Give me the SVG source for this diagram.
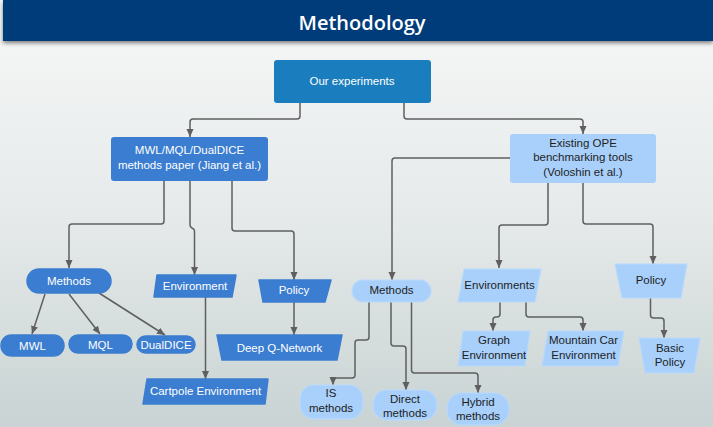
<svg xmlns="http://www.w3.org/2000/svg" width="713" height="427" viewBox="0 0 713 427">
<defs>
<linearGradient id="bg" x1="0" y1="0" x2="0" y2="1">
<stop offset="0" stop-color="#f7f8f8"/>
<stop offset="0.5" stop-color="#e6eaea"/>
<stop offset="1" stop-color="#c9d3d3"/>
</linearGradient>
<filter id="sh" x="-5%" y="-20%" width="110%" height="160%">
<feDropShadow dx="0" dy="2" stdDeviation="2" flood-color="#000" flood-opacity="0.5"/>
</filter>
<marker id="ah" markerWidth="8" markerHeight="8" viewBox="0 0 8 8" refX="8" refY="4" orient="auto" markerUnits="userSpaceOnUse">
<path d="M0,0.5 L8,4 L0,7.5 Z" fill="#5f5f5f"/>
</marker>
</defs>
<style>
.t{font-family:"Liberation Sans",Arial,sans-serif;font-size:11.5px;text-anchor:middle}
.w{fill:#ffffff}
.k{fill:#1e1e1e}
.dk{fill:#3b7dd0;stroke:#3b7dd0;stroke-width:1.5;stroke-linejoin:round}
.lt{fill:#a8d0fb;stroke:#b9d9fb;stroke-width:1.2;stroke-linejoin:round}
.c{fill:none;stroke:#5f5f5f;stroke-width:1.5;marker-end:url(#ah)}
</style>
<rect x="0" y="0" width="713" height="427" fill="url(#bg)"/>
<g id="title">
<rect x="3" y="0" width="710" height="41" fill="#063a7a" filter="url(#sh)"/>
<text x="362" y="30" style="font-family:'Open Sans',Lato,sans-serif;font-weight:600;font-size:20px;text-anchor:middle" fill="#ffffff">Methodology</text>
</g>
<g id="connectors">
<path class="c" d="M300,103 V116 Q300,119 297,119 H193 Q190,119 190,122 V137"/>
<path class="c" d="M404,103 V116 Q404,119 407,119 H580 Q583,119 583,122 V134"/>
<path class="c" d="M164,181 V221 Q164,224 161,224 H72 Q69,224 69,227 V268"/>
<path class="c" d="M190,181 V225 Q190,227 192,228 Q194.5,229 194.5,231 V275"/>
<path class="c" d="M232,181 V228 Q232,231 235,231 H291 Q294,231 294,234 V280"/>
<path class="c" d="M510,158 H395 Q392,158 392,161 V280"/>
<path class="c" d="M548,183 V222 Q548,225 545,225 H502 Q499,225 499,228 V268"/>
<path class="c" d="M583,183 V221 Q583,224 586,224 H650 Q653,224 653,227 V264"/>
<path class="c" d="M45,294 L32,334"/>
<path class="c" d="M69,294 L100,334"/>
<path class="c" d="M99,293 L165,335"/>
<path class="c" d="M205.5,297 V379"/>
<path class="c" d="M294,302 V335"/>
<path class="c" d="M369,302 V337 Q369,340 366,340 H358 Q355,340 355,343 V375 Q355,378 352,378 H336 Q333,378 333,381 V385"/>
<path class="c" d="M391,302 V343 Q391,346 394,346 H403 Q406,346 406,349 V390"/>
<path class="c" d="M411.5,302 V370 Q411.5,373 414.5,373 H475 Q478,373 478,376 V393"/>
<path class="c" d="M500,302 V314 Q500,317 497,317 H496 Q493,317 493,320 V331"/>
<path class="c" d="M526,302 V314 Q526,317 529,317 H580 Q583,317 583,320 V331"/>
<path class="c" d="M650.5,298 V315 Q650.5,318 653.5,318 H661 Q664,318 664,321 V338"/>
</g>
<g id="our-experiments">
<rect x="274" y="60" width="157" height="43" rx="3" fill="#1a7dbd"/>
<text class="t w" x="352" y="85">Our experiments</text>
</g>
<g id="jiang">
<rect x="111" y="137" width="157" height="44" rx="3" fill="#3b7dd0"/>
<text class="t w" x="189.5" y="154">MWL/MQL/DualDICE</text>
<text class="t w" x="189.5" y="169">methods paper (Jiang et al.)</text>
</g>
<g id="voloshin">
<rect x="510" y="134" width="146" height="49" rx="3" fill="#a8d0fb"/>
<text class="t k" x="583" y="147">Existing OPE</text>
<text class="t k" x="583" y="161">benchmarking tools</text>
<text class="t k" x="583" y="176">(Voloshin et al.)</text>
</g>
<g id="methods-l">
<rect class="dk" x="27" y="269" width="84" height="24" rx="12"/>
<text class="t w" x="69" y="284.5">Methods</text>
</g>
<g id="environment-l">
<polygon class="dk" points="157,275 236,275 232,297 154,297"/>
<text class="t w" x="195" y="289.5">Environment</text>
</g>
<g id="policy-l">
<polygon class="dk" points="259,280 331,280 325,302 263,302"/>
<text class="t w" x="294" y="294">Policy</text>
</g>
<g id="mwl">
<rect class="dk" x="1" y="335" width="63" height="21" rx="10.5"/>
<text class="t w" x="32.5" y="349.5">MWL</text>
</g>
<g id="mql">
<rect class="dk" x="69" y="335" width="63" height="18" rx="9"/>
<text class="t w" x="100.5" y="348.5">MQL</text>
</g>
<g id="dualdice">
<rect class="dk" x="137" y="336" width="58" height="17" rx="8.5"/>
<text class="t w" x="166" y="348.5">DualDICE</text>
</g>
<g id="dqn">
<polygon class="dk" points="217,335 342,335 337,360 222,360"/>
<text class="t w" x="279.5" y="351.5">Deep Q-Network</text>
</g>
<g id="cartpole">
<polygon class="dk" points="147,379 268,379 265,404 143,404"/>
<text class="t w" x="205.5" y="394.5">Cartpole Environment</text>
</g>
<g id="methods-r">
<rect class="lt" x="352" y="280" width="79" height="22" rx="11"/>
<text class="t k" x="391.5" y="294">Methods</text>
</g>
<g id="environments-r">
<polygon class="lt" points="464,269 541,269 535,302 458,302"/>
<text class="t k" x="499.5" y="288.5">Environments</text>
</g>
<g id="policy-r">
<polygon class="lt" points="615,264 687,264 681,298 622,298"/>
<text class="t k" x="651" y="284">Policy</text>
</g>
<g id="graph">
<polygon class="lt" points="463,331 530,331 525,366 458,366"/>
<text class="t k" x="494" y="344">Graph</text>
<text class="t k" x="494" y="358.5">Environment</text>
</g>
<g id="mountain-car">
<polygon class="lt" points="548,331 624,331 618,366 542,366"/>
<text class="t k" x="583.5" y="344">Mountain Car</text>
<text class="t k" x="583.5" y="358.5">Environment</text>
</g>
<g id="basic-policy">
<polygon class="lt" points="639,338 700,338 694,373 645,373"/>
<text class="t k" x="670" y="351.5">Basic</text>
<text class="t k" x="670" y="365.5">Policy</text>
</g>
<g id="is-methods">
<rect class="lt" x="300" y="385" width="63" height="34" rx="14"/>
<text class="t k" x="331" y="397">IS</text>
<text class="t k" x="331" y="411.5">methods</text>
</g>
<g id="direct-methods">
<rect class="lt" x="373" y="390" width="64" height="30" rx="14"/>
<text class="t k" x="405" y="403">Direct</text>
<text class="t k" x="405" y="417">methods</text>
</g>
<g id="hybrid-methods">
<rect class="lt" x="447" y="393" width="62" height="32" rx="15"/>
<text class="t k" x="478" y="406">Hybrid</text>
<text class="t k" x="478" y="420">methods</text>
</g>
</svg>
